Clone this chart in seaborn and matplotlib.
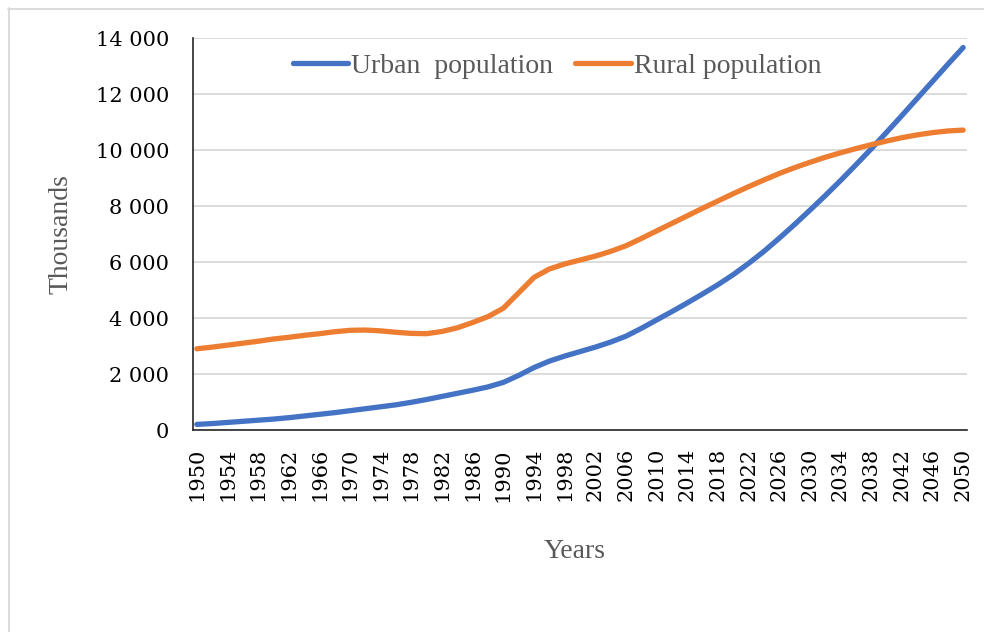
import numpy as np
import pandas as pd
import matplotlib
matplotlib.use("Agg")
import matplotlib.pyplot as plt
from matplotlib.lines import Line2D
import seaborn as sns

# Population by year, in thousands
years = list(range(1950, 2051, 2))
urban = [200, 230, 270, 310, 350, 390, 440, 500, 560, 620,
         690, 760, 830, 900, 990, 1090, 1200, 1310, 1420, 1540,
         1700, 1950, 2230, 2460, 2640, 2800, 2960, 3140, 3350, 3630,
         3930, 4230, 4540, 4860, 5190, 5550, 5950, 6380, 6850, 7340,
         7850, 8370, 8910, 9470, 10040, 10630, 11230, 11840, 12450, 13060,
         13660]
rural = [2900, 2960, 3030, 3100, 3170, 3250, 3310, 3380, 3440, 3510,
         3560, 3570, 3540, 3490, 3450, 3440, 3520, 3650, 3840, 4050,
         4350, 4900, 5450, 5750, 5930, 6070, 6210, 6380, 6580, 6840,
         7110, 7380, 7650, 7920, 8180, 8440, 8690, 8930, 9160, 9370,
         9560, 9740, 9900, 10050, 10190, 10320, 10440, 10540, 10620, 10680,
         10710]
series_names = ["Urban  population", "Rural population"]
tick_years = list(range(1950, 2051, 4))
y_ticks = list(range(0, 14001, 2000))

df = pd.DataFrame({
    "Year": years * 2,
    "Population": urban + rural,
    "Series": [series_names[0]] * len(years) + [series_names[1]] * len(years),
})

sns.set_style("white")
plt.rcParams["font.family"] = ["DejaVu Serif"]

fig = plt.figure(figsize=(9.84, 6.32), dpi=100)
ax = fig.add_axes([193 / 984, 1 - 430 / 632, 774 / 984, 392 / 632])

sns.lineplot(data=df, x="Year", y="Population", hue="Series",
             palette=["#4472C4", "#ED7D31"], linewidth=3.8, ax=ax,
             solid_capstyle="round", solid_joinstyle="round")

ax.set_xlim(1949.5, 2050.5)
ax.set_ylim(0, 14000)
ax.set_xticks(tick_years)
ax.set_xticklabels([str(y) for y in tick_years], rotation=90,
                   fontsize=15, color="black")
ax.set_yticks(y_ticks)
ax.set_yticklabels([f"{v:,}".replace(",", " ") for v in y_ticks],
                   fontsize=15, color="black")
ax.tick_params(axis="x", length=0, pad=13)
ax.tick_params(axis="y", length=0, pad=17)

ax.grid(axis="y", color="#d9d9d9", linewidth=1.3)
ax.grid(axis="x", visible=False)
ax.set_axisbelow(True)
for side in ["top", "right"]:
    ax.spines[side].set_visible(False)
ax.spines["left"].set_color("#262626")
ax.spines["bottom"].set_color("#262626")
ax.spines["left"].set_linewidth(1.2)
ax.spines["bottom"].set_linewidth(1.2)

title_font = dict(family="Liberation Serif", size=20, color="#595959")
ax.set_xlabel("Years", **title_font)
ax.set_ylabel("Thousands", **title_font)
ax.xaxis.set_label_coords((575 - 193) / 774, (430 - 552) / 392)
ax.xaxis.label.set_va("center")
ax.yaxis.set_label_coords((61 - 193) / 774, 0.5)
ax.yaxis.label.set_va("center")

handles, labels = ax.get_legend_handles_labels()
leg = ax.legend(handles, labels, loc="center", ncol=2, frameon=False,
                bbox_to_anchor=(557 / 984, 1 - 66 / 632),
                bbox_transform=fig.transFigure,
                prop={"family": "Liberation Serif", "size": 20},
                handlelength=2.0, handletextpad=0.1, columnspacing=0.8)
for t in leg.get_texts():
    t.set_color("#595959")
for h in leg.legend_handles:
    h.set_linewidth(3.8)
    h.set_solid_capstyle("round")

# Outer chart frame
fig.add_artist(Line2D([8.5 / 984, 8.5 / 984], [1 - 8 / 632, 0],
                      transform=fig.transFigure, color="#d9d9d9", linewidth=1.3))
fig.add_artist(Line2D([8 / 984, 1], [1 - 8.5 / 632, 1 - 8.5 / 632],
                      transform=fig.transFigure, color="#d9d9d9", linewidth=1.3))

fig.savefig("out.png", dpi=100, facecolor="white")
